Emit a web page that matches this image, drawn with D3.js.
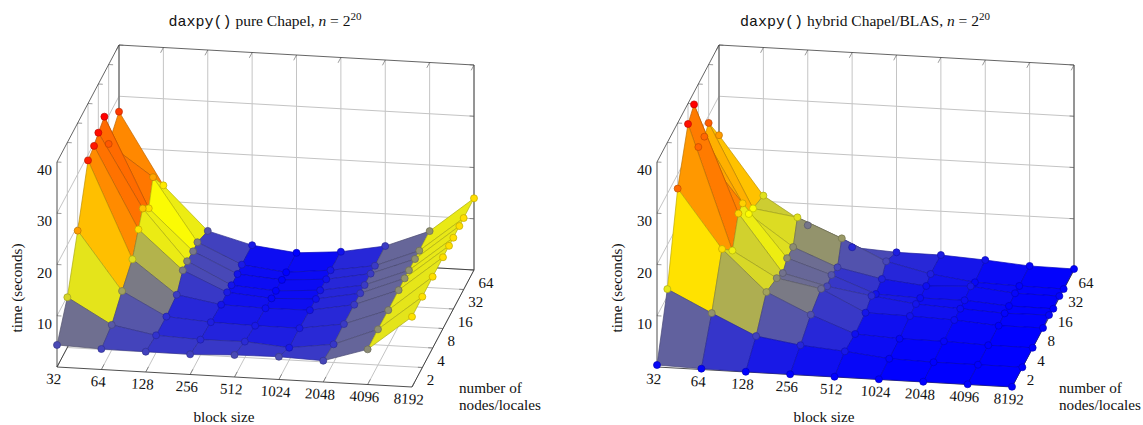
<!DOCTYPE html>
<html>
<head>
<meta charset="utf-8">
<script src="https://cdnjs.cloudflare.com/ajax/libs/d3/7.8.5/d3.min.js"></script>
<style>
  body { margin: 0; background: #fff; }
  text { font-family: "Liberation Serif", serif; fill: #111; }
</style>
</head>
<body>
<div id="chart"></div>
<script>
// x axis categories and y axis node counts (the data has rows for 1, 12 and 24 nodes too)
const blockSizes = [32, 64, 128, 256, 512, 1024, 2048, 4096, 8192]
const nodeCounts = [1, 2, 4, 8, 12, 16, 24, 32, 64]
const nodeTicks = [2, 4, 8, 16, 32, 64]
const timeTicks = [10, 20, 30, 40]

// time in seconds, one line per block size, one value per node count
const pureTimes = [
  [4.3, 9.8, 19.0, 28.9, 29.5, 30.5, 31.4, 24.5, 27.0],
  [4.0, 4.9, 7.7, 10.1, 13.7, 16.2, 14.0, 18.5, 13.1],
  [3.96, 3.35, 3.2, 3.66, 6.2, 6.4, 6.1, 6.3, 4.7],
  [3.94, 3.0, 2.6, 2.2, 2.4, 2.2, 2.16, 2.4, 2.4],
  [4.3, 3.1, 2.4, 2.0, 1.7, 1.6, 1.5, 1.4, 1.4],
  [4.44, 2.4, 2.4, 2.1, 2.07, 2.18, 2.1, 2.3, 2.1],
  [4.15, 3.55, 3.7, 3.67, 3.67, 3.7, 3.7, 3.66, 3.7],
  [6.86, 6.96, 6.9, 7.0, 7.07, 7.06, 7.04, 7.08, 7.1],
  [13.7, 13.8, 13.9, 13.9, 13.9, 13.9, 13.96, 13.94, 14.0]
]
const hybridTimes = [
  [0.39, 11.4, 27.2, 36.0, 37.6, 27.7, 27.5, 28.6, 22.4],
  [0.16, 7.2, 15.9, 11.8, 16.8, 17.2, 12.9, 12.4, 11.1],
  [0.05, 3.2, 8.0, 6.9, 5.67, 7.0, 6.94, 11.15, 5.8],
  [0.05, 1.9, 4.05, 5.3, 3.57, 4.2, 3.47, 7.54, 2.0],
  [0.05, 1.2, 0.78, 1.13, 2.2, 0.97, 1.68, 3.55, 1.5],
  [0.05, 0.25, 0.35, 0.97, 1.09, 0.68, 0.8, 1.56, 1.46],
  [0.05, 0.05, 0.33, 0.68, 0.66, 0.72, 1.23, 0.43, 0.97],
  [0.05, 0.05, 0.05, 0.06, 0.25, 0.1, 0.35, 0.2, 0.3],
  [0.05, 0.05, 0.05, 0.1, 0.4, 0.05, 0.3, 0.1, 0.2]
]

const w = 1143
const h = 425
const floorY = 367 //pixel row of the front left bottom corner

// Oblique projection, each data axis moves a point sideways and up/down
const xRight = d3.scaleLinear().domain([0, blockSizes.length - 1]).range([0, 355])
const xDown = d3.scaleLinear().domain([0, blockSizes.length - 1]).range([0, 20])
const yRight = d3.scaleLog().base(2).domain([1, 64]).range([0, 62])
const yUp = d3.scaleLog().base(2).domain([1, 64]).range([0, -117])
const zUp = d3.scaleLinear().domain([0, 40]).range([0, -205])

const svg = d3.select("#chart")
              .append("svg")
              .attr("width", w)
              .attr("height", h)

function drawChart(originX, name, titleText, titleMid, times){
  const project = (i, n, t) => [
    originX + xRight(i) + yRight(n),
    floorY + xDown(i) + yUp(n) + zUp(t)
  ]
  const lastX = blockSizes.length - 1
  const g = svg.append("g")

  const seg = (a, b, color, width) => {
    g.append("line")
     .attr("x1", a[0]).attr("y1", a[1])
     .attr("x2", b[0]).attr("y2", b[1])
     .attr("stroke", color)
     .attr("stroke-width", width)
  }

  // Grid on the floor and the two back walls
  const gridColor = "#c4c4c4"
  blockSizes.forEach((d, i) => {
    seg(project(i, 1, 0), project(i, 64, 0), gridColor, 1)
    seg(project(i, 64, 0), project(i, 64, 40), gridColor, 1)
  })
  nodeTicks.forEach(n => {
    seg(project(0, n, 0), project(lastX, n, 0), gridColor, 1)
    seg(project(0, n, 0), project(0, n, 40), gridColor, 1)
  })
  timeTicks.slice(0, 3).forEach(t => {
    seg(project(0, 1, t), project(0, 64, t), gridColor, 1)
    seg(project(0, 64, t), project(lastX, 64, t), gridColor, 1)
  })

  // Box
  const boxColor = "#222"
  seg(project(0, 1, 0), project(lastX, 1, 0), boxColor, 0.8)
  seg(project(lastX, 1, 0), project(lastX, 64, 0), boxColor, 0.8)
  seg(project(0, 1, 0), project(0, 64, 0), boxColor, 0.8)
  seg(project(0, 64, 0), project(lastX, 64, 0), boxColor, 0.8)
  seg(project(0, 1, 0), project(0, 1, 40), boxColor, 0.8)
  seg(project(lastX, 64, 0), project(lastX, 64, 40), boxColor, 0.8)
  seg(project(0, 64, 0), project(0, 64, 40), boxColor, 0.7)
  seg(project(0, 1, 40), project(0, 64, 40), boxColor, 0.7)
  seg(project(0, 64, 40), project(lastX, 64, 40), boxColor, 0.7)

  // Short tick marks on the box
  const tickColor = "#555"
  blockSizes.forEach((d, i) => {
    seg(project(i, 1, 0), project(i, 1.2, 0), tickColor, 0.6)
    seg(project(i, 64, 40), project(i, 53, 40), tickColor, 0.6)
  })
  nodeTicks.forEach(n => {
    seg(project(lastX, n, 0), project(lastX - 0.1, n, 0), tickColor, 0.6)
    seg(project(0, n, 40), project(0.1, n, 40), tickColor, 0.6)
  })
  timeTicks.forEach(t => {
    seg(project(0, 1, t), project(0.1, 1, t), tickColor, 0.6)
    seg(project(lastX, 64, t), project(lastX - 0.1, 64, t), tickColor, 0.6)
  })

  // Colormap hot: blue, yellow, orange, red evenly over the data range
  const flat = d3.merge(times)
  const lo = d3.min(flat)
  const hi = d3.max(flat)
  const color = d3.scaleLinear()
                  .domain([lo, lo + (hi - lo) / 3, lo + 2 * (hi - lo) / 3, hi])
                  .range(["#0000ff", "#ffff00", "#ff8000", "#ff0000"])
  const edge = v => d3.interpolateRgb(color(v), "#000")(0.25)

  // Patches back to front, each with the mean of its corners
  const patches = []
  for (let r = nodeCounts.length - 2; r >= 0; r--){
    for (let i = 0; i < lastX; i++){
      const corners = [[i, r], [i + 1, r], [i + 1, r + 1], [i, r + 1]]
      patches.push({
        pts: corners.map(c => project(c[0], nodeCounts[c[1]], times[c[0]][c[1]])),
        mean: d3.mean(corners, c => times[c[0]][c[1]])
      })
    }
  }
  g.selectAll("polygon")
   .data(patches)
   .enter()
   .append("polygon")
   .attr("points", d => d.pts.map(p => p.join(",")).join(" "))
   .attr("fill", d => color(d.mean))
   .attr("stroke", d => edge(d.mean))
   .attr("stroke-width", 0.7)
   .attr("stroke-linejoin", "round")

  // Marks sit on top of all patches
  const marks = []
  for (let r = nodeCounts.length - 1; r >= 0; r--){
    blockSizes.forEach((d, i) => {
      marks.push({ p: project(i, nodeCounts[r], times[i][r]), v: times[i][r] })
    })
  }
  g.selectAll("circle")
   .data(marks)
   .enter()
   .append("circle")
   .attr("cx", d => d.p[0])
   .attr("cy", d => d.p[1])
   .attr("r", 3.5)
   .attr("fill", d => color(d.v))
   .attr("stroke", d => edge(d.v))
   .attr("stroke-width", 0.7)

  // Tick labels
  const fs = 15
  blockSizes.forEach((d, i) => {
    const p = project(i, 1, 0)
    g.append("text")
     .attr("transform", "translate(" + (p[0] - 3.5) + "," + (p[1] + 17) + ") rotate(3)")
     .attr("text-anchor", "middle")
     .attr("font-size", fs)
     .text(d)
  })
  nodeTicks.forEach(n => {
    const p = project(lastX, n, 0)
    g.append("text")
     .attr("x", p[0] + 4.5)
     .attr("y", p[1] + 17.5)
     .attr("font-size", fs)
     .text(n)
  })
  timeTicks.forEach(t => {
    const p = project(0, 1, t)
    g.append("text")
     .attr("x", p[0] - 5)
     .attr("y", p[1] + 13)
     .attr("text-anchor", "end")
     .attr("font-size", fs)
     .text(t)
  })

  // Axis names
  g.append("text")
   .attr("x", originX + 167)
   .attr("y", 422)
   .attr("text-anchor", "middle")
   .attr("font-size", 15.2)
   .text("block size")
  g.append("text")
   .attr("transform", "translate(" + (originX - 35) + ",288) rotate(-90)")
   .attr("text-anchor", "middle")
   .attr("font-size", 15.2)
   .text("time (seconds)")
  g.append("text")
   .attr("x", originX + 402)
   .attr("y", 393)
   .attr("font-size", 15.2)
   .text("number of")
  g.append("text")
   .attr("x", originX + 402)
   .attr("y", 410)
   .attr("font-size", 15.2)
   .text("nodes/locales")

  // Title
  const title = g.append("text")
                 .attr("x", titleMid)
                 .attr("y", 26)
                 .attr("text-anchor", "middle")
                 .attr("font-size", 15.5)
  title.append("tspan")
       .style("font-family", '"Liberation Mono", monospace')
       .attr("font-size", 15)
       .text(name)
  title.append("tspan").text(" " + titleText + ", ")
  title.append("tspan").attr("font-style", "italic").text("n")
  title.append("tspan").text(" = 2")
  title.append("tspan").attr("dy", -6).attr("font-size", 11).text("20")
}

drawChart(57, "daxpy()", "pure Chapel", 265, pureTimes)
drawChart(657, "daxpy()", "hybrid Chapel/BLAS", 865, hybridTimes)
</script>
</body>
</html>
